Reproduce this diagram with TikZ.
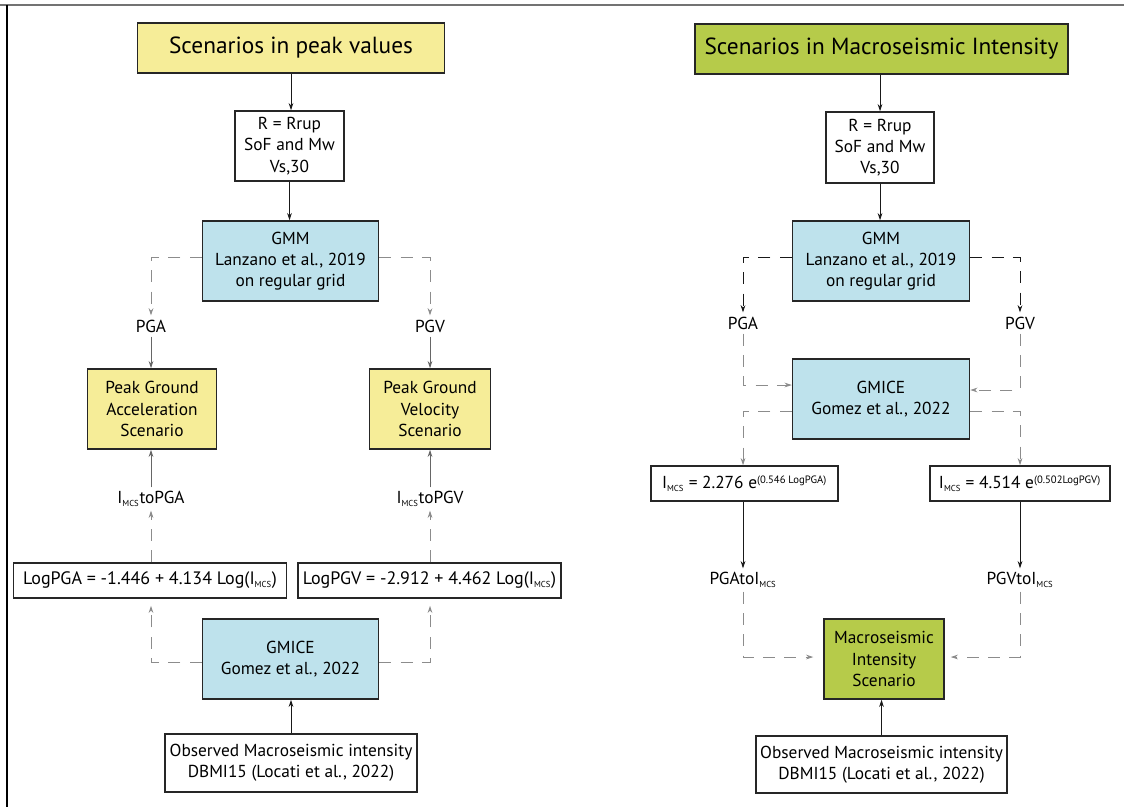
\documentclass[tikz,border=0pt]{standalone}
\usepackage{fontspec}
\setmainfont{PT Sans}
\usetikzlibrary{arrows.meta}
\newdimen\pxu \pxu=0.75pt
\newcommand\mcs{\textsubscript{\fontsize{6.5}{6.5}\selectfont MCS}}
\newcommand\supx[1]{\textsuperscript{\fontsize{8}{8}\selectfont #1}}
\definecolor{ttlyellow}{RGB}{246,237,152}
\definecolor{ttlgreen}{RGB}{182,203,74}
\definecolor{boxblue}{RGB}{190,226,236}
\begin{document}
\begin{tikzpicture}[x=0.75pt,y=-0.75pt,
  base/.style={draw=black!85, line width=1.1pt, align=center, inner sep=0pt,
    font=\fontsize{13}{16}\selectfont},
  ttl/.style={base, font=\fontsize{17.5}{20}\selectfont},
  wbox/.style={base, fill=white},
  fbox/.style={wbox, font=\fontsize{13.5}{16}\selectfont},
  bbox/.style={base, fill=boxblue},
  ybox/.style={base, fill=ttlyellow},
  gbox/.style={base, fill=ttlgreen},
  lbl/.style={inner sep=4\pxu, font=\fontsize{13}{16}\selectfont},
  arr/.style={draw=black!90, line width=0.7pt, -{Stealth[length=5.5pt,width=3.6pt]}},
  arrL/.style={arr, draw=black!60},
  darr/.style={arr, dash pattern=on 9pt off 7pt},
  darrL/.style={darr, draw=black!45},
]
\useasboundingbox (0,0) rectangle (1124,807);
\fill[white] (0,0) rectangle (1124,807);
% frame
\draw[black!55, line width=1.6pt] (0,5) -- (1124,5);
\draw[black, line width=1.3pt] (7,5) -- (7,807);

% ---------- left half ----------
\node[ttl, fill=ttlyellow, minimum width=307\pxu, minimum height=50\pxu] (t1) at (291,48) {Scenarios in peak values};
\node[wbox, minimum width=109\pxu, minimum height=70\pxu] (r1) at (289.5,146) {R = Rrup\\SoF and Mw\\Vs,30};
\node[bbox, minimum width=176\pxu, minimum height=80\pxu] (g1) at (290.5,261) {GMM\\Lanzano et al., 2019\\on regular grid};
\node[lbl] (pga1) at (151,326) {PGA};
\node[lbl] (pgv1) at (430,326) {PGV};
\node[ybox, minimum width=129\pxu, minimum height=80\pxu] (sA) at (152,409) {Peak Ground\\Acceleration\\Scenario};
\node[ybox, minimum width=121\pxu, minimum height=80\pxu] (sV) at (430,409) {Peak Ground\\Velocity\\Scenario};
\node[lbl] (lA) at (151,499) {I\mcs toPGA};
\node[lbl] (lV) at (430,499) {I\mcs toPGV};
\node[fbox, minimum width=273\pxu, minimum height=35\pxu] (fA) at (150,580.5) {LogPGA = -1.446 + 4.134 Log(I\mcs)};
\node[fbox, minimum width=263\pxu, minimum height=35\pxu] (fV) at (429.5,580.5) {LogPGV = -2.912 + 4.462 Log(I\mcs)};
\node[bbox, minimum width=176\pxu, minimum height=80\pxu] (gm1) at (290.5,659) {GMICE\\Gomez et al., 2022};
\node[wbox, minimum width=252\pxu, minimum height=58\pxu] (o1) at (291,763) {Observed Macroseismic intensity\\DBMI15 (Locati et al., 2022)};

\draw[arr] (t1) -- (t1 |- r1.north);
\draw[arr] (r1) -- (r1 |- g1.north);
\draw[darrL] ([yshift=3pt]g1.west) -| (pga1);
\draw[darrL] ([yshift=3pt]g1.east) -| (pgv1);
\draw[arrL] (pga1) -- (pga1 |- sA.north);
\draw[arrL] (pgv1) -- (pgv1 |- sV.north);
\draw[arrL] (lA) -- (lA |- sA.south);
\draw[arrL] (lV) -- (lV |- sV.south);
\draw[darrL] (lA |- fA.north) -- (lA);
\draw[darrL] (lV |- fV.north) -- (lV);
\draw[darrL, shorten >=5.25pt] ([yshift=-2.25pt]gm1.west) -| (lA |- fA.south);
\draw[darrL, shorten >=5.25pt] ([yshift=-2.25pt]gm1.east) -| (lV |- fV.south);
\draw[arr] (o1) -- (o1 |- gm1.south);

% ---------- right half ----------
\node[ttl, fill=ttlgreen, minimum width=373\pxu, minimum height=50\pxu] (t2) at (881.5,49) {Scenarios in Macroseismic Intensity};
\node[wbox, minimum width=108\pxu, minimum height=71\pxu] (r2) at (880,147.5) {R = Rrup\\SoF and Mw\\Vs,30};
\node[bbox, minimum width=177\pxu, minimum height=80\pxu] (g2) at (881,261) {GMM\\Lanzano et al., 2019\\on regular grid};
\node[lbl] (pga2) at (743,323) {PGA};
\node[lbl] (pgv2) at (1020,323) {PGV};
\node[bbox, minimum width=177\pxu, minimum height=80\pxu] (gm2) at (881,399) {GMICE\\Gomez et al., 2022};
\node[wbox, minimum width=187\pxu, minimum height=35\pxu] (f2A) at (744.5,483.5) {I\mcs{} = 2.276 e\supx{(0.546 LogPGA)}};
\node[wbox, minimum width=180\pxu, minimum height=35\pxu] (f2V) at (1020,483.5) {I\mcs{} = 4.514 e\supx{(0.502LogPGV)}};
\node[lbl] (l2A) at (743,580) {PGAtoI\mcs};
\node[lbl] (l2V) at (1020,580) {PGVtoI\mcs};
\node[gbox, minimum width=120\pxu, minimum height=80\pxu] (sc2) at (884,659) {Macroseismic\\Intensity\\Scenario};
\node[wbox, minimum width=251\pxu, minimum height=57\pxu] (o2) at (881.5,764.5) {Observed Macroseismic intensity\\DBMI15 (Locati et al., 2022)};

\draw[arr] (r2 |- t2.south) -- (r2);
\draw[arr] (r2) -- (r2 |- g2.north);
\draw[darr] ([yshift=3pt]g2.west) -| (pga2);
\draw[darr] ([yshift=3pt]g2.east) -| (pgv2);
\draw[darrL] (pga2) |- ([yshift=10.5pt]gm2.west);
\draw[darrL] (pgv2) |- ([yshift=6.75pt]gm2.east);
\draw[darrL] ([yshift=-9pt]gm2.west) -| (pga2 |- f2A.north);
\draw[darrL] ([yshift=-9pt]gm2.east) -| (pgv2 |- f2V.north);
\draw[arr] (pga2 |- f2A.south) -- (l2A);
\draw[arr] (pgv2 |- f2V.south) -- (l2V);
\draw[darrL, shorten >=7.5pt] (l2A) |- ([yshift=1.5pt]sc2.west);
\draw[darrL, shorten >=4.5pt] (l2V) |- ([yshift=1.5pt]sc2.east);
\draw[arr] (o2) -- (o2 |- sc2.south);
\end{tikzpicture}
\end{document}
